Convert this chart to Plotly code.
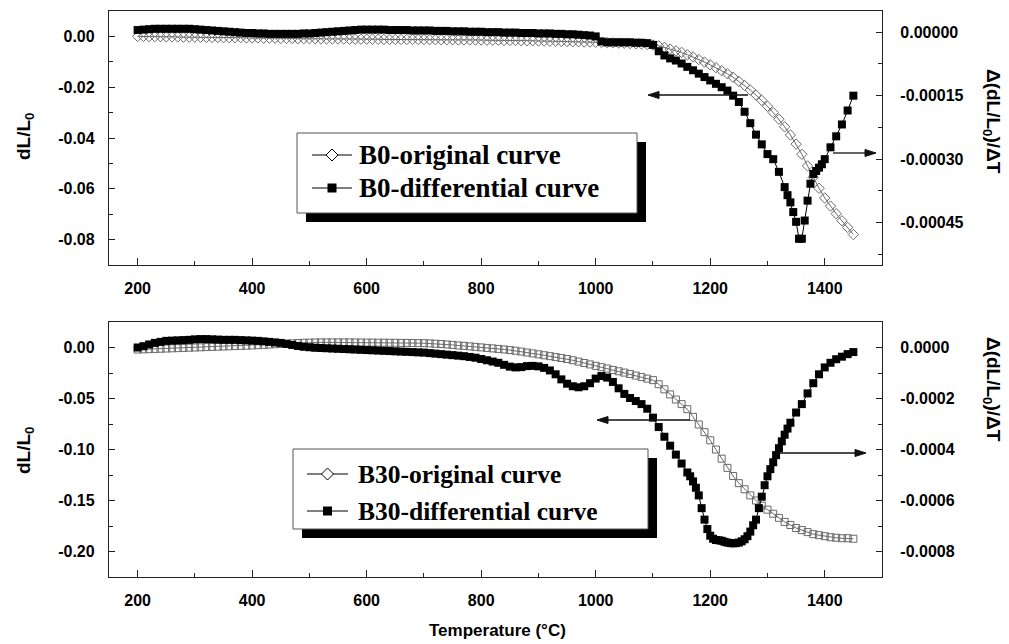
import plotly.graph_objects as go

# ---------------- data ----------------
# Top panel: B0
b0_orig_T = list(range(200, 1451, 10))
b0_orig_v = [
    0.0000, -0.0000, -0.0001, -0.0001, -0.0001, -0.0002, -0.0002, -0.0002, -0.0003, -0.0003,
    -0.0003, -0.0003, -0.0004, -0.0004, -0.0004, -0.0005, -0.0005, -0.0005, -0.0005, -0.0006,
    -0.0006, -0.0006, -0.0007, -0.0007, -0.0007, -0.0008, -0.0008, -0.0008, -0.0009, -0.0009,
    -0.0009, -0.0009, -0.0010, -0.0010, -0.0010, -0.0010, -0.0010, -0.0011, -0.0011, -0.0011,
    -0.0011, -0.0011, -0.0011, -0.0012, -0.0012, -0.0012, -0.0012, -0.0012, -0.0012, -0.0012,
    -0.0012, -0.0013, -0.0013, -0.0013, -0.0013, -0.0013, -0.0014, -0.0014, -0.0014, -0.0014,
    -0.0014, -0.0015, -0.0015, -0.0015, -0.0016, -0.0016, -0.0016, -0.0017, -0.0017, -0.0017,
    -0.0018, -0.0018, -0.0019, -0.0019, -0.0020, -0.0020, -0.0021, -0.0021, -0.0022, -0.0022,
    -0.0023, -0.0024, -0.0024, -0.0025, -0.0026, -0.0027, -0.0028, -0.0029, -0.0030, -0.0032,
    -0.0034, -0.0037, -0.0043, -0.0050, -0.0057, -0.0063, -0.0072, -0.0081, -0.0091, -0.0101,
    -0.0112, -0.0123, -0.0135, -0.0147, -0.0161, -0.0177, -0.0193, -0.0211, -0.0231, -0.0252,
    -0.0275, -0.0300, -0.0326, -0.0356, -0.0388, -0.0424, -0.0464, -0.0510, -0.0555, -0.0598,
    -0.0636, -0.0668, -0.0698, -0.0726, -0.0752, -0.0780,
]
b0_diff_T = list(range(200, 1331, 10)) + list(range(1335, 1401, 5)) + list(range(1410, 1451, 10))
b0_diff_v = [
    0.000005, 0.000006, 0.000007, 0.000008, 0.000008, 0.000008, 0.000008, 0.000008, 0.000008, 0.000008,
    0.000007, 0.000006, 0.000005, 0.000004, 0.000003, 0.000002, 0.000001, 0.000000, -0.000001, -0.000002,
    -0.000002, -0.000003, -0.000003, -0.000004, -0.000004, -0.000004, -0.000004, -0.000004, -0.000004, -0.000003,
    -0.000003, -0.000002, -0.000001, 0.000000, 0.000001, 0.000002, 0.000003, 0.000004, 0.000005, 0.000006,
    0.000006, 0.000006, 0.000006, 0.000006, 0.000005, 0.000005, 0.000005, 0.000005, 0.000004, 0.000004,
    0.000004, 0.000004, 0.000003, 0.000003, 0.000003, 0.000002, 0.000002, 0.000002, 0.000001, 0.000001,
    0.000001, 0.000000, 0.000000, 0.000000, -0.000001, -0.000001, -0.000001, -0.000002, -0.000002, -0.000002,
    -0.000003, -0.000003, -0.000003, -0.000004, -0.000004, -0.000005, -0.000005, -0.000006, -0.000007, -0.000008,
    -0.000010, -0.000022, -0.000024, -0.000024, -0.000024, -0.000024, -0.000024, -0.000025, -0.000025, -0.000026,
    -0.000030, -0.000045, -0.000055, -0.000062, -0.000067, -0.000074, -0.000082, -0.000090, -0.000098, -0.000106,
    -0.000114, -0.000122, -0.000130, -0.000138, -0.000150, -0.000165, -0.000188, -0.000215, -0.000242, -0.000265,
    -0.000288, -0.000300, -0.000330, -0.000366,
    -0.000385, -0.000402, -0.000425, -0.000448, -0.000488, -0.000488, -0.000445, -0.000398, -0.000358, -0.000335,
    -0.000328, -0.000320, -0.000312, -0.000300,
    -0.000272, -0.000246, -0.000218, -0.000185, -0.000150,
]

# Bottom panel: B30
b30_orig_T = list(range(200, 1451, 10))
b30_orig_v = [
    -0.0020, -0.0018, -0.0016, -0.0014, -0.0012, -0.0010, -0.0008, -0.0006, -0.0004, -0.0002,
    0.0000, 0.0002, 0.0004, 0.0006, 0.0008, 0.0010, 0.0012, 0.0014, 0.0016, 0.0018,
    0.0020, 0.0023, 0.0026, 0.0029, 0.0032, 0.0035, 0.0038, 0.0041, 0.0044, 0.0046,
    0.0048, 0.0049, 0.0050, 0.0050, 0.0050, 0.0050, 0.0050, 0.0050, 0.0049, 0.0049,
    0.0048, 0.0048, 0.0047, 0.0047, 0.0046, 0.0046, 0.0045, 0.0045, 0.0044, 0.0043,
    0.0042, 0.0040, 0.0037, 0.0034, 0.0030, 0.0025, 0.0020, 0.0016, 0.0011, 0.0006,
    0.0001, -0.0004, -0.0009, -0.0014, -0.0019, -0.0025, -0.0032, -0.0040, -0.0049, -0.0058,
    -0.0067, -0.0076, -0.0085, -0.0094, -0.0103, -0.0113, -0.0125, -0.0138, -0.0152, -0.0166,
    -0.0180, -0.0193, -0.0206, -0.0220, -0.0233, -0.0246, -0.0260, -0.0275, -0.0290, -0.0305,
    -0.0320, -0.0360, -0.0410, -0.0460, -0.0510, -0.0555, -0.0605, -0.0680, -0.0755, -0.0830,
    -0.0910, -0.1000, -0.1090, -0.1180, -0.1260, -0.1330, -0.1390, -0.1450, -0.1500, -0.1550,
    -0.1590, -0.1630, -0.1670, -0.1710, -0.1740, -0.1770, -0.1790, -0.1810, -0.1830, -0.1840,
    -0.1850, -0.1860, -0.1865, -0.1870, -0.1870, -0.1875,
]
b30_diff_T = list(range(200, 1161, 10)) + list(range(1165, 1341, 5)) + list(range(1350, 1451, 10))
b30_diff_v = [
    0.000000, 0.000005, 0.000012, 0.000018, 0.000022, 0.000026, 0.000027, 0.000028, 0.000029, 0.000030,
    0.000032, 0.000033, 0.000033, 0.000032, 0.000031, 0.000030, 0.000030, 0.000030, 0.000029, 0.000028,
    0.000027, 0.000026, 0.000024, 0.000022, 0.000020, 0.000018, 0.000014, 0.000010, 0.000006, 0.000003,
    0.000001, -0.000001, -0.000002, -0.000003, -0.000004, -0.000005, -0.000006, -0.000007, -0.000008, -0.000009,
    -0.000010, -0.000011, -0.000012, -0.000013, -0.000014, -0.000015, -0.000016, -0.000017, -0.000018, -0.000019,
    -0.000020, -0.000022, -0.000024, -0.000026, -0.000028, -0.000030, -0.000032, -0.000034, -0.000037, -0.000040,
    -0.000045, -0.000050, -0.000055, -0.000060, -0.000068, -0.000075, -0.000078, -0.000077, -0.000073, -0.000072,
    -0.000074, -0.000080, -0.000090, -0.000105, -0.000125, -0.000142, -0.000152, -0.000156, -0.000152, -0.000140,
    -0.000122, -0.000112, -0.000118, -0.000135, -0.000160, -0.000182, -0.000198, -0.000210, -0.000222, -0.000240,
    -0.000275, -0.000312, -0.000350, -0.000385, -0.000420, -0.000455, -0.000490,
    -0.000505, -0.000525, -0.000550, -0.000580, -0.000630, -0.000675, -0.000712, -0.000738, -0.000750, -0.000755,
    -0.000756, -0.000758, -0.000762, -0.000765, -0.000767, -0.000768, -0.000767, -0.000765, -0.000760, -0.000752,
    -0.000740, -0.000722, -0.000697, -0.000675, -0.000630, -0.000585, -0.000540, -0.000505, -0.000477, -0.000450,
    -0.000422, -0.000395, -0.000368, -0.000342, -0.000318, -0.000295,
    -0.000255, -0.000222, -0.000180, -0.000140, -0.000105, -0.000078, -0.000060, -0.000046, -0.000036, -0.000026,
    -0.000018,
]

# tick labels
x_ticks = [200, 400, 600, 800, 1000, 1200, 1400]
x_ticktext = ["200", "400", "600", "800", "1000", "1200", "1400"]
top_left_ticks = [0.0, -0.02, -0.04, -0.06, -0.08]
top_left_text = ["0.00", "-0.02", "-0.04", "-0.06", "-0.08"]
top_right_ticks = [0.0, -0.00015, -0.0003, -0.00045]
top_right_text = ["0.00000", "-0.00015", "-0.00030", "-0.00045"]
bot_left_ticks = [0.0, -0.05, -0.10, -0.15, -0.20]
bot_left_text = ["0.00", "-0.05", "-0.10", "-0.15", "-0.20"]
bot_right_ticks = [0.0, -0.0002, -0.0004, -0.0006, -0.0008]
bot_right_text = ["0.0000", "-0.0002", "-0.0004", "-0.0006", "-0.0008"]

legend_top = ["B0-original curve", "B0-differential curve"]
legend_bot = ["B30-original curve", "B30-differential curve"]

# ---------------- figure ----------------
W, H = 1009, 644
def px(x):
    return x / W
def py(y):
    return 1 - y / H

GRAY = "#6a6a6a"
fig = go.Figure()

fig.add_trace(go.Scatter(x=b0_orig_T, y=b0_orig_v, xaxis="x", yaxis="y", mode="lines+markers",
                         line=dict(color=GRAY, width=1),
                         marker=dict(symbol="diamond-open", size=8, color=GRAY, line=dict(width=1, color=GRAY)),
                         name=legend_top[0], showlegend=False))
fig.add_trace(go.Scatter(x=b0_diff_T, y=b0_diff_v, xaxis="x", yaxis="y2", mode="lines+markers",
                         line=dict(color="black", width=1),
                         marker=dict(symbol="square", size=8, color="black"),
                         name=legend_top[1], showlegend=False))
fig.add_trace(go.Scatter(x=b30_orig_T, y=b30_orig_v, xaxis="x2", yaxis="y3", mode="lines+markers",
                         line=dict(color=GRAY, width=1),
                         marker=dict(symbol="square-open", size=7, color=GRAY, line=dict(width=1, color=GRAY)),
                         name=legend_bot[0], showlegend=False))
fig.add_trace(go.Scatter(x=b30_diff_T, y=b30_diff_v, xaxis="x2", yaxis="y4", mode="lines+markers",
                         line=dict(color="black", width=1),
                         marker=dict(symbol="square", size=8, color="black"),
                         name=legend_bot[1], showlegend=False))

tickfont = dict(family="Liberation Sans, Arial, sans-serif", size=16, color="black", weight="bold")
frame = dict(showline=True, linecolor="#222", linewidth=1.3, showgrid=False, zeroline=False,
             ticks="inside", tickcolor="#222", tickwidth=1.2, tickfont=tickfont)

xdom = [px(109), px(882)]
top_dom = [py(265), py(11)]
bot_dom = [py(577), py(322)]

def xaxis(anchor):
    d = dict(frame)
    d.update(domain=xdom, range=[150, 1500], anchor=anchor, mirror=True, ticklen=7,
             tickmode="array", tickvals=x_ticks, ticktext=x_ticktext, ticklabelstandoff=9,
             minor=dict(ticks="inside", ticklen=4, tickcolor="#222", dtick=100, tick0=100, showgrid=False))
    return d

def yaxis(domain, rng, tv, tt, mdt, side, anchor, overlaying=None, standoff=10):
    d = dict(frame)
    d.update(domain=domain, range=rng, anchor=anchor, side=side, ticklen=6,
             tickmode="array", tickvals=tv, ticktext=tt, ticklabelstandoff=standoff,
             minor=dict(ticks="inside", ticklen=4, tickcolor="#222", dtick=mdt, tick0=0, showgrid=False))
    if overlaying:
        d["overlaying"] = overlaying
    return d

fig.update_layout(
    width=W, height=H, autosize=False,
    margin=dict(l=0, r=0, t=0, b=0, pad=0),
    paper_bgcolor="white", plot_bgcolor="white",
    showlegend=False,
    xaxis=xaxis("y"),
    xaxis2=xaxis("y3"),
    yaxis=yaxis(top_dom, [-0.09, 0.01], top_left_ticks, top_left_text, 0.01, "left", "x"),
    yaxis2=yaxis(top_dom, [-0.00055, 0.00005], top_right_ticks, top_right_text, 0.000075, "right", "x", "y", 14),
    yaxis3=yaxis(bot_dom, [-0.225, 0.025], bot_left_ticks, bot_left_text, 0.025, "left", "x2"),
    yaxis4=yaxis(bot_dom, [-0.0009, 0.0001], bot_right_ticks, bot_right_text, 0.0001, "right", "x2", "y3", 14),
)

title_font = dict(family="Liberation Sans, Arial, sans-serif", size=19, color="black", weight="bold")
ann = []
ann.append(dict(text="dL/L<sub>0</sub>", x=px(25), y=py(136), xref="paper", yref="paper", showarrow=False,
                textangle=-90, font=title_font, xanchor="center", yanchor="middle"))
ann.append(dict(text="dL/L<sub>0</sub>", x=px(25), y=py(450), xref="paper", yref="paper", showarrow=False,
                textangle=-90, font=title_font, xanchor="center", yanchor="middle"))
ann.append(dict(text="\u0394(dL/L<sub>0</sub>)/\u0394T", x=px(992), y=py(121), xref="paper", yref="paper",
                showarrow=False, textangle=90, font=title_font, xanchor="center", yanchor="middle"))
ann.append(dict(text="\u0394(dL/L<sub>0</sub>)/\u0394T", x=px(992), y=py(389), xref="paper", yref="paper",
                showarrow=False, textangle=90, font=title_font, xanchor="center", yanchor="middle"))
ann.append(dict(text="Temperature (\u00b0C)", x=px(497), y=py(630), xref="paper", yref="paper",
                showarrow=False, font=dict(family="Liberation Sans, Arial, sans-serif", size=17,
                                           color="black", weight="bold"),
                xanchor="center", yanchor="middle"))

shapes = []

# pointer arrows: (tip_x, tip_y, tail_x)
for tx_, ty_, tail in [(648, 95, 748), (876, 153, 833), (597, 420, 690), (866, 453, 778)]:
    d = 1 if tail > tx_ else -1
    hl, hw = 11, 3.5
    base = tx_ + d * hl
    shapes.append(dict(type="line", xref="paper", yref="paper", x0=px(base), x1=px(tail), y0=py(ty_), y1=py(ty_),
                       line=dict(color="#111", width=1.3), layer="above"))
    path = "M {} {} L {} {} L {} {} Z".format(px(tx_), py(ty_), px(base), py(ty_ - hw), px(base), py(ty_ + hw))
    shapes.append(dict(type="path", xref="paper", yref="paper", path=path, fillcolor="#111",
                       line=dict(color="#111", width=1), layer="above"))

# legends (drawn manually to reproduce the shadowed box)
def legend_box(x0, y0, x1, y1, off, rows, labels, lx0, lx1, tx, fsize):
    leg_font = dict(family="Liberation Serif, Times New Roman, serif", size=fsize, color="black", weight="bold")
    shapes.append(dict(type="rect", xref="paper", yref="paper", x0=px(x0 + off), x1=px(x1 + off),
                       y0=py(y1 + off), y1=py(y0 + off), fillcolor="black", line=dict(width=0), layer="above"))
    shapes.append(dict(type="rect", xref="paper", yref="paper", x0=px(x0), x1=px(x1), y0=py(y1), y1=py(y0),
                       fillcolor="white", line=dict(color="#555", width=1), layer="above"))
    cx = (lx0 + lx1) / 2
    for i, (ry, lab) in enumerate(zip(rows, labels)):
        shapes.append(dict(type="line", xref="paper", yref="paper", x0=px(lx0), x1=px(lx1), y0=py(ry), y1=py(ry),
                           line=dict(color="black", width=1.2), layer="above"))
        if i == 0:
            s = 6
            path = "M {} {} L {} {} L {} {} L {} {} Z".format(px(cx - s), py(ry), px(cx), py(ry - s),
                                                             px(cx + s), py(ry), px(cx), py(ry + s))
            shapes.append(dict(type="path", xref="paper", yref="paper", path=path, fillcolor="white",
                               line=dict(color="black", width=1), layer="above"))
        else:
            s = 4.5
            shapes.append(dict(type="rect", xref="paper", yref="paper", x0=px(cx - s), x1=px(cx + s),
                               y0=py(ry + s), y1=py(ry - s), fillcolor="black", line=dict(width=0),
                               layer="above"))
        ann.append(dict(text=lab, x=px(tx), y=py(ry), xref="paper", yref="paper", showarrow=False,
                        font=leg_font, xanchor="left", yanchor="middle"))

legend_box(297, 133, 637, 213, 9, [155, 188], legend_top, 312, 352, 357, 27)
legend_box(293, 449, 648, 529, 9, [474, 511], legend_bot, 307, 348, 356, 25.5)

fig.update_layout(annotations=ann, shapes=shapes)

fig.write_html("out.html", config={"displayModeBar": False},
               post_script="document.body.style.margin='0';")
